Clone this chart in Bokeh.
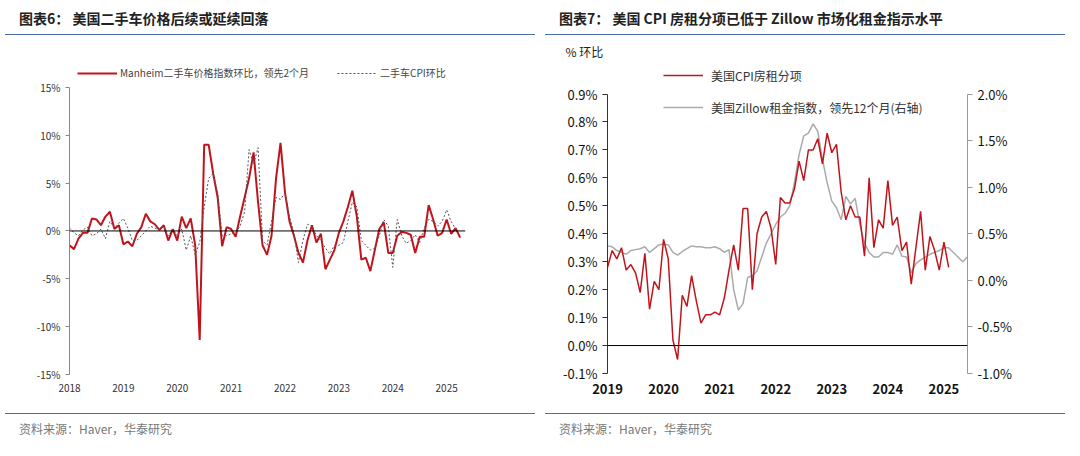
import numpy as np
from bokeh.plotting import figure
from bokeh.layouts import row, column
from bokeh.models import Div, Span, Legend, LegendItem, LinearAxis, Range1d, FixedTicker, NumeralTickFormatter
from bokeh.embed import file_html
from bokeh.resources import INLINE

FONT = "Noto Sans CJK SC"
RED = "#c0141c"

# ---- left panel data (monthly from 2018-01) ----
manheim = [-1.5,-1.9,-0.8,-0.2,-0.2,1.3,1.2,0.6,1.5,2.0,0.2,0.6,
           -1.4,-1.1,-1.6,-0.3,0.4,1.8,1.0,0.7,0.1,0.6,-1.0,0.2,
           -1.0,1.5,0.3,1.3,-1.5,-11.4,9.0,9.0,6.0,3.5,-1.6,0.4,
           0.2,-0.6,1.5,3.5,5.5,8.2,3.0,-1.5,-2.5,-0.5,5.5,9.2,
           4.0,1.0,-0.5,-2.3,-3.3,-1.0,0.6,-1.2,-0.3,-4.0,-3.0,-2.0,
           -0.2,1.0,2.5,4.2,1.5,-3.0,-2.8,-4.2,-2.0,0.2,0.9,-2.3,
           -2.3,-0.5,-0.1,-0.2,-0.4,-2.3,-0.6,-0.6,2.7,1.2,-0.5,-0.2,
           1.2,-0.3,0.3,-0.7]
used_cpi = [0.3,-0.2,-0.5,0.1,0.4,-0.5,-0.3,0.2,-0.8,1.0,0.3,0.8,
            1.3,0.3,-1.0,-1.0,-0.5,0.0,0.5,0.3,0.1,0.5,-0.5,0.2,
            -0.5,0.2,-2.0,-0.5,-2.5,-1.2,2.5,5.5,6.0,4.0,-0.5,-0.5,
            -0.3,-0.2,0.5,2.0,8.5,7.0,8.7,-1.0,-1.5,1.0,3.5,3.3,
            4.0,1.5,-0.3,-3.3,-1.0,0.7,0.5,-0.5,-1.0,-1.8,-2.4,-1.5,
            -1.5,-1.2,1.0,3.0,2.5,-1.0,-1.5,-2.0,-1.8,-0.5,1.2,0.5,
            -3.8,1.2,-0.5,-1.3,-1.0,-0.4,-1.2,0.3,1.2,1.0,0.5,1.0,
            2.2,1.0,0.2]
left_years = [2018,2019,2020,2021,2022,2023,2024,2025]

# ---- right panel data (monthly from 2019-01) ----
cpi_rent = [0.28,0.34,0.31,0.35,0.27,0.29,0.26,0.19,0.33,0.13,0.23,0.20,
            0.38,0.31,0.02,-0.05,0.18,0.14,0.25,0.16,0.08,0.11,0.11,0.12,
            0.11,0.17,0.27,0.36,0.27,0.49,0.49,0.20,0.40,0.46,0.48,0.42,
            0.29,0.53,0.51,0.51,0.56,0.66,0.59,0.70,0.70,0.74,0.65,0.76,
            0.69,0.72,0.55,0.45,0.50,0.46,0.46,0.32,0.60,0.35,0.45,0.42,
            0.59,0.43,0.46,0.34,0.37,0.22,0.35,0.48,0.27,0.39,0.34,0.27,
            0.37,0.28]
zillow = [0.37,0.36,0.32,0.30,0.28,0.32,0.33,0.34,0.36,0.30,0.34,0.38,
          0.39,0.38,0.30,0.27,0.31,0.34,0.37,0.36,0.36,0.35,0.35,0.36,
          0.34,0.30,0.33,-0.10,-0.32,-0.25,0.03,0.05,0.10,0.25,0.40,0.50,
          0.60,0.68,0.72,0.80,1.05,1.35,1.55,1.58,1.68,1.60,1.30,1.05,
          0.85,0.78,0.65,0.90,0.82,0.88,0.60,0.40,0.30,0.25,0.25,0.30,
          0.30,0.28,0.38,0.26,0.25,0.08,0.18,0.22,0.25,0.28,0.30,0.32,
          0.35,0.35,0.30,0.25,0.20,0.25]
right_years = [2019,2020,2021,2022,2023,2024,2025]

def months(start, n):
    return [start + i / 12 for i in range(n)]

def title_div(txt, w):
    return Div(text=txt, width=w, height=30, styles={
        "font-family": FONT, "font-weight": "bold", "font-size": "14px", "color": "#222",
        "border-bottom": "1px solid #4a6fa5", "padding-left": "14px", "box-sizing": "border-box",
        "line-height": "26px"})

def src_div(w):
    return Div(text="资料来源：Haver，华泰研究", width=w, height=40, styles={
        "font-family": FONT, "font-size": "12px", "color": "#777",
        "border-top": "1px solid #4a6fa5", "padding-left": "14px", "padding-top": "6px",
        "box-sizing": "border-box"})

# ---------- left figure ----------
p1 = figure(width=537, height=368, output_backend="svg", toolbar_location=None,
            x_range=Range1d(2018, 2025.35), y_range=Range1d(-0.15, 0.176),
            min_border_left=69, min_border_right=72, min_border_top=22, min_border_bottom=34)
p1.outline_line_color = None
p1.grid.visible = False
r1 = p1.line(months(2018, len(manheim)), [v / 100 for v in manheim], color=RED, line_width=2)
r2 = p1.line(months(2018, len(used_cpi)), [v / 100 for v in used_cpi], color="#555", line_width=1, line_dash="2 2")
p1.add_layout(Span(location=0, dimension="width", line_color="black", line_width=1))
p1.yaxis.ticker = FixedTicker(ticks=[-0.15, -0.1, -0.05, 0, 0.05, 0.1, 0.15])
p1.yaxis.formatter = NumeralTickFormatter(format="0%")
p1.yaxis.bounds = (-0.15, 0.15)
p1.xaxis.ticker = FixedTicker(ticks=left_years)
for ax in (p1.xaxis, p1.yaxis):
    ax.major_label_text_font = FONT
    ax.major_label_text_font_size = "10px"
    ax.major_label_text_color = "#333"
    ax.axis_line_color = "#888"
    ax.major_tick_line_color = "#888"
    ax.minor_tick_line_color = None
    ax.major_tick_in = 0
    ax.major_tick_out = 4
p1.xaxis.axis_line_color = None
p1.xaxis.major_tick_line_color = None
leg1 = Legend(items=[LegendItem(label="Manheim二手车价格指数环比，领先2个月", renderers=[r1]),
                     LegendItem(label="二手车CPI环比", renderers=[r2])],
              orientation="horizontal", location=(8, 294), label_text_font=FONT,
              label_text_font_size="10px", label_text_color="#444", background_fill_alpha=0,
              border_line_color=None, glyph_width=40, spacing=28, margin=0, padding=0,
              label_standoff=3, glyph_height=12, label_height=12)
p1.add_layout(leg1, "center")

# ---------- right figure ----------
p2 = figure(width=525, height=368, output_backend="svg", toolbar_location=None,
            x_range=Range1d(2019, 2025.42), y_range=Range1d(-0.001, 0.010236),
            min_border_left=67, min_border_right=98, min_border_top=0, min_border_bottom=35,
            title="% 环比")
p2.title.text_font = FONT
p2.title.text_font_size = "12px"
p2.title.text_font_style = "normal"
p2.title.text_color = "#222"
p2.title.offset = -42
p2.title.standoff = 0
p2.extra_y_ranges = {"r": Range1d(-0.01, 0.02371)}
p2.outline_line_color = None
p2.grid.visible = False
g = p2.line(months(2019, len(zillow)), [v / 100 for v in zillow], y_range_name="r", color="#aaa", line_width=1.5)
rr = p2.line(months(2019, len(cpi_rent)), [v / 100 for v in cpi_rent], color=RED, line_width=1.5)
p2.add_layout(Span(location=0, dimension="width", line_color="black", line_width=1))
ax_r = LinearAxis(y_range_name="r")
p2.add_layout(ax_r, "right")
p2.yaxis[0].ticker = FixedTicker(ticks=[i / 1000 for i in range(-1, 10)])
p2.yaxis[0].formatter = NumeralTickFormatter(format="0.0%")
p2.yaxis[0].bounds = (-0.001, 0.009)
ax_r.ticker = FixedTicker(ticks=[-0.01, -0.005, 0, 0.005, 0.01, 0.015, 0.02])
ax_r.formatter = NumeralTickFormatter(format="0.0%")
ax_r.bounds = (-0.01, 0.02)
p2.xaxis.ticker = FixedTicker(ticks=right_years)
for ax in list(p2.yaxis) + list(p2.xaxis):
    ax.major_label_text_font = FONT
    ax.major_label_text_font_size = "13px"
    ax.major_label_text_color = "#111"
    ax.minor_tick_line_color = None
    ax.major_tick_in = 0
    ax.major_tick_out = 5
    ax.axis_line_color = "#333"
    ax.major_tick_line_color = "#333"
ax_r.axis_line_color = "#999"
ax_r.major_tick_line_color = "#999"
p2.xaxis.axis_line_color = None
p2.xaxis.major_tick_line_color = None
p2.xaxis.major_label_text_font_style = "bold"
leg2 = Legend(items=[LegendItem(label="美国CPI房租分项", renderers=[rr]),
                     LegendItem(label="美国Zillow租金指数，领先12个月(右轴)", renderers=[g])],
              location=(56, 256), label_text_font=FONT, label_text_font_size="12px",
              label_text_color="#333", background_fill_alpha=0, border_line_color=None,
              glyph_width=40, spacing=12, margin=0, padding=0, label_standoff=8)
p2.add_layout(leg2, "center")

left = column(title_div("图表6：  美国二手车价格后续或延续回落", 530), p1, src_div(530), spacing=0)
right = column(title_div("图表7：  美国 CPI 房租分项已低于 Zillow 市场化租金指示水平", 520), p2, src_div(520), spacing=0)
page = row(left, right, spacing=0)

open("out.html", "w").write(file_html(page, INLINE))
